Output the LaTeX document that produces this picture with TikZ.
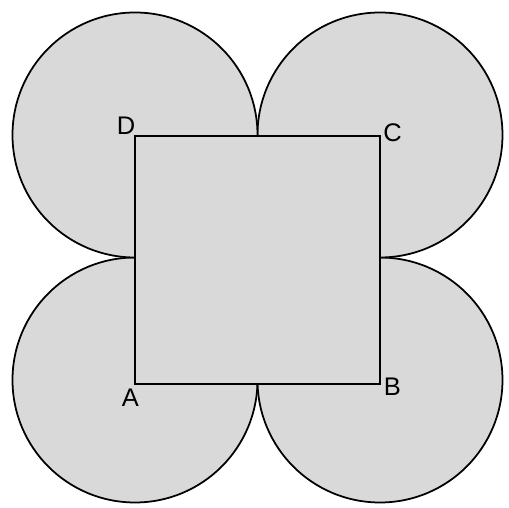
\documentclass[tikz,border=0pt]{standalone}
\usepackage{fontspec}
\setmainfont{Liberation Sans}
\definecolor{petalgray}{HTML}{D9D9D9}
\begin{document}
\begin{tikzpicture}
			[petal/.style={draw,fill=petalgray,line width=1pt},
			every label node/.style={font=\fontsize{14.5}{16}\selectfont,inner sep=0pt}]
			\useasboundingbox (-2.7,-2.48) rectangle (7.48,7.68);
			\coordinate (A) at (0,0);
			\coordinate (B) at (4.9,0);
			\coordinate (C) at (4.9,4.96);
			\coordinate (D) at (0,4.96);
			\coordinate (OA) at (0,0.08);
			\coordinate (OB) at (4.9,0.08);
			\coordinate (OC) at (4.9,4.98);
			\coordinate (OD) at (0,4.98);
			\draw[petal] (OA) circle (2.45);
			\draw[petal] (OB) circle (2.45);
			\draw[petal] (OC) circle (2.45);
			\draw[petal] (OD) circle (2.45);
			\draw[petal] (A) -- (B) -- (C) -- (D) -- cycle;
			\node[every label node] (lA) at (-0.09,-0.27) {A};
			\node[every label node] (lB) at (5.15,-0.06) {B};
			\node[every label node] (lC) at (5.15,5.02) {C};
			\node[every label node] (lD) at (-0.18,5.16) {D};
		\end{tikzpicture}
\end{document}
